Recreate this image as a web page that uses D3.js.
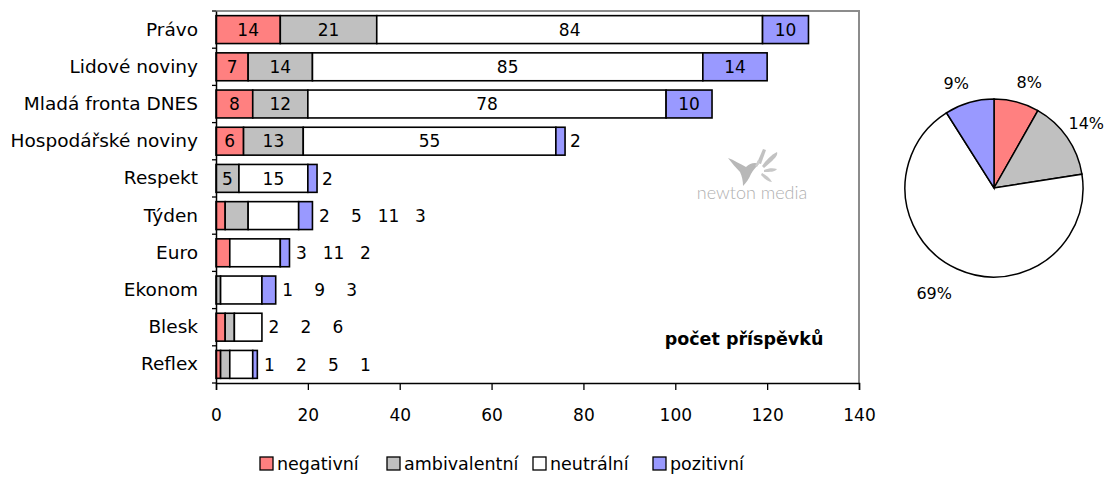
<!DOCTYPE html>
<html>
<head>
<meta charset="utf-8">
<script src="https://cdn.jsdelivr.net/npm/d3@7"></script>
<style>
  html, body { margin: 0; padding: 0; background: #fff; }
  svg { display: block; }
  text { font-family: "DejaVu Sans", sans-serif; fill: #000; }
</style>
</head>
<body>
<svg id="chart" width="1107" height="484"></svg>
<script>
// ---------- data ----------
const categories = ["Právo", "Lidové noviny", "Mladá fronta DNES", "Hospodářské noviny",
  "Respekt", "Týden", "Euro", "Ekonom", "Blesk", "Reflex"];
const seriesNames = ["negativní", "ambivalentní", "neutrální", "pozitivní"];
const negativni    = [14, 7, 8, 6, 0, 2, 3, 0, 2, 1];
const ambivalentni = [21, 14, 12, 13, 5, 5, 0, 1, 2, 2];
const neutralni    = [84, 85, 78, 55, 15, 11, 11, 9, 6, 5];
const pozitivni    = [10, 14, 10, 2, 2, 3, 2, 3, 0, 1];
const xTicks = [0, 20, 40, 60, 80, 100, 120, 140];
const axisTitle = "počet příspěvků";

const colors = ["#FF8080", "#C0C0C0", "#FFFFFF", "#9999FF"];

// ---------- build ----------
const series = [negativni, ambivalentni, neutralni, pozitivni];
const rows = categories.map((c, i) => {
  const o = { cat: c };
  seriesNames.forEach((s, k) => o[s] = series[k][i]);
  return o;
});

const svg = d3.select("#chart");
const plot = { left: 216, right: 859, top: 11, bottom: 383 };

const x = d3.scaleLinear().domain([0, 140]).range([plot.left, plot.right]);
const y = d3.scaleBand().domain(categories).range([plot.top, plot.bottom])
  .paddingInner(0.25).paddingOuter(0.125);

// plot-area frame (gray top/right)
svg.append("path")
  .attr("d", `M${plot.left},${plot.top}H${plot.right}V${plot.bottom}`)
  .attr("fill", "none").attr("stroke", "#8c8c8c").attr("stroke-width", 2);

// logo watermark
const logo = svg.append("g").attr("transform", "translate(752,0)");
logo.append("path")
  .attr("d", "M-24,158 C-18,160 -12,164 -6,167 C-2,163 3,162 7,164 C4,167 1,170 -1,174 C-3,179 -6,183 -9,186 C-9,181 -10,176 -12,172 C-16,168 -20,163 -24,158 Z")
  .attr("fill", "#b8b8b8");
logo.append("path").attr("d", "M5,163 L11,149 L14,150 L9,164 Z").attr("fill", "#c2c2c2");
logo.append("path").attr("d", "M10,166 C14,160 19,155 25,152 C26,155 24,158 12,168 Z").attr("fill", "#c2c2c2");
logo.append("path").attr("d", "M12,170 C17,168 21,168 25,169 C23,172 18,172 12,172 Z").attr("fill", "#c8c8c8");
logo.append("path").attr("d", "M10,173 C14,175 18,178 20,182 C16,182 13,179 9,175 Z").attr("fill", "#c8c8c8");
logo.append("path").attr("d", "M3,166 L6,160 L8,161 L5,167 Z").attr("fill", "#cccccc");
logo.append("text").attr("x", 0).attr("y", 199).attr("text-anchor", "middle")
  .style("font-family", "Lato, 'Open Sans', sans-serif").style("font-weight", 300)
  .style("font-size", "18px").style("fill", "#b0b0b0").text("newton media");

// stacked bars
const stack = d3.stack().keys(seriesNames)(rows);
const layers = svg.append("g").selectAll("g").data(stack).join("g")
  .attr("fill", (d, k) => colors[k]);
layers.selectAll("rect").data(d => d.filter(p => p[1] - p[0] > 0)).join("rect")
  .attr("x", d => x(d[0]))
  .attr("y", d => y(d.data.cat))
  .attr("width", d => x(d[1]) - x(d[0]))
  .attr("height", y.bandwidth())
  .attr("stroke", "#000").attr("stroke-width", 1.6);

// value labels
const labelG = svg.append("g").style("font-size", "17px");
rows.forEach((r, i) => {
  const cy = y(r.cat) + y.bandwidth() / 2;
  const total = seriesNames.reduce((a, s) => a + r[s], 0);
  const endX = x(total);
  if (total <= 21) {
    const vals = seriesNames.map(s => r[s]).filter(v => v > 0);
    vals.forEach((v, j) => {
      labelG.append("text").attr("x", endX + 12 + j * 32).attr("y", cy)
        .attr("dy", "0.36em").attr("text-anchor", "middle").text(v);
    });
  } else {
    let acc = 0;
    seriesNames.forEach((s, k) => {
      const v = r[s];
      if (v > 0) {
        const w = x(acc + v) - x(acc);
        if (w < 15) {
          labelG.append("text").attr("x", x(acc + v) + 5).attr("y", cy)
            .attr("dy", "0.36em").attr("text-anchor", "start").text(v);
        } else {
          labelG.append("text").attr("x", (x(acc) + x(acc + v)) / 2).attr("y", cy)
            .attr("dy", "0.36em").attr("text-anchor", "middle").text(v);
        }
      }
      acc += v;
    });
  }
});

// x axis
const xAxis = svg.append("g").attr("transform", `translate(0,${plot.bottom})`)
  .call(d3.axisBottom(x).tickValues(xTicks).tickSize(7).tickPadding(19));
xAxis.select(".domain").attr("stroke", "#000").attr("stroke-width", 1.5);
xAxis.selectAll(".tick line").attr("stroke", "#000").attr("stroke-width", 1.3);
xAxis.selectAll("text").style("font-family", "'DejaVu Sans', sans-serif")
  .style("font-size", "17px").attr("fill", "#000");

// y axis
const yAxis = svg.append("g").attr("transform", `translate(${plot.left},0)`)
  .call(d3.axisLeft(y).tickSize(0).tickPadding(18));
yAxis.select(".domain").attr("stroke", "#000").attr("stroke-width", 1.5);
yAxis.selectAll("text").style("font-family", "'DejaVu Sans', sans-serif")
  .style("font-size", "18.5px").attr("fill", "#000");
const bounds = categories.map(c => y(c) - y.step() * y.paddingInner() / 2).concat([plot.bottom]);
svg.append("g").selectAll("line").data(bounds).join("line")
  .attr("x1", plot.left - 4).attr("x2", plot.left)
  .attr("y1", d => d).attr("y2", d => d)
  .attr("stroke", "#000").attr("stroke-width", 1.3);

// axis title inside plot
svg.append("text").attr("x", 744).attr("y", 339).attr("dy", "0.36em")
  .attr("text-anchor", "middle").style("font-weight", "bold").style("font-size", "17.5px")
  .text(axisTitle);

// ---------- pie ----------
const totals = seriesNames.map((s, k) => d3.sum(series[k]));
const grand = d3.sum(totals);
const pieData = d3.pie().sort(null)(totals);
const R = 89;
const pc = { x: 994, y: 188 };
const arc = d3.arc().innerRadius(0).outerRadius(R);
const pg = svg.append("g").attr("transform", `translate(${pc.x},${pc.y})`);
pg.selectAll("path").data(pieData).join("path")
  .attr("d", arc).attr("fill", (d, k) => colors[k])
  .attr("stroke", "#000").attr("stroke-width", 1.5);
const labelOffsets = [[7, 2], [1, -2], [-14, 4], [-7, 2]];
pg.selectAll("text").data(pieData).join("text")
  .attr("transform", (d, k) => {
    const a = (d.startAngle + d.endAngle) / 2;
    const rr = R + 22;
    const px = Math.sin(a) * rr, py = -Math.cos(a) * rr;
    return `translate(${px + labelOffsets[k][0]},${py + labelOffsets[k][1]})`;
  })
  .attr("text-anchor", "middle").attr("dy", "0.36em")
  .style("font-size", "16px")
  .text(d => Math.round(d.value / grand * 100) + "%");

// ---------- legend ----------
const legendX = [260, 387, 533, 653];
const lg = svg.append("g").style("font-size", "17.5px");
seriesNames.forEach((s, k) => {
  lg.append("rect").attr("x", legendX[k]).attr("y", 457).attr("width", 13).attr("height", 13)
    .attr("fill", colors[k]).attr("stroke", "#000").attr("stroke-width", 1.3);
  lg.append("text").attr("x", legendX[k] + 17).attr("y", 463.5).attr("dy", "0.36em").text(s);
});
</script>
</body>
</html>
